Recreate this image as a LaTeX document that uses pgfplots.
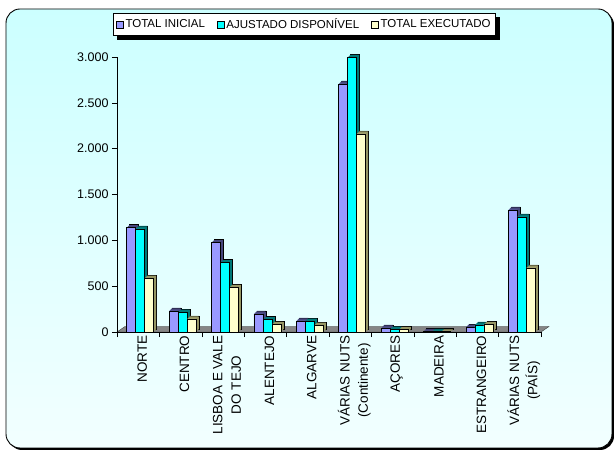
\documentclass[border=0pt]{standalone}
\usepackage{pgfplots}
\pgfplotsset{compat=1.18}
\usepackage{fontspec}
\setmainfont{Liberation Sans}

\definecolor{iniFront}{RGB}{153,153,255}
\definecolor{iniSide}{RGB}{70,70,125}
\definecolor{ajuFront}{RGB}{0,255,255}
\definecolor{ajuSide}{RGB}{0,120,120}
\definecolor{exeFront}{RGB}{255,255,204}
\definecolor{exeSide}{RGB}{150,150,100}
\definecolor{bgTop}{RGB}{204,255,255}
\definecolor{bgBottom}{RGB}{242,255,255}

\pgfdeclarelayer{frame}
\pgfdeclarelayer{shadow}
\pgfsetlayers{frame,shadow,main}

% values per region (thousands)
\pgfplotstableread{
x ini aju exe
0 1140 1125 587
1 231 216 144
2 976 758 488
3 198 136 82
4 122 118 74
5 2706 2996 2161
6 46 31 30
7 8 6 5
8 52 78 82
9 1332 1256 700
}\dados

\pgfplotsset{
  depth/.style={fill=#1, draw=none, forget plot},
  backface/.style={fill=#1, draw=black, forget plot, xshift=3pt, yshift=3pt},
}

\begin{document}
\begin{tikzpicture}
\path[use as bounding box] (-117pt,-118pt) rectangle (497pt,332pt);
\begin{pgfonlayer}{frame}
\fill[black,rounded corners=14pt] (-109pt,-118pt) rectangle (497pt,321pt);
\shade[top color=bgTop,bottom color=bgBottom,draw=black,line width=0.9pt,rounded corners=14pt]
  (-111pt,-116pt) rectangle (495pt,323pt);
\end{pgfonlayer}
% floor of the plot area
\fill[gray!95,draw=black!75,line width=0.4pt] (0pt,0pt) -- (424pt,0pt) -- (432pt,5.5pt) -- (8pt,5.5pt) -- cycle;

\begin{axis}[
  at={(0pt,0pt)}, anchor=south west,
  scale only axis, width=424pt, height=275pt,
  xmin=-0.5, xmax=9.5, ymin=0, ymax=3000,
  axis lines*=left,
  axis line style={black,line width=0.6pt},
  ybar, bar width=9pt,
  ytick={0,500,...,3000},
  tick align=outside,
  major tick length=5pt,
  tick style={black,line width=0.5pt},
  /pgf/number format/.cd, 1000 sep={.}, assume math mode=true,
  /pgfplots/.cd,
  yticklabel style={font=\fontsize{12.5}{14}\selectfont},
  xtick={-0.5,0.5,1.5,2.5,3.5,4.5,5.5,6.5,7.5,8.5,9.5},
  xticklabels={},
  extra x ticks={0,1,2,3,4,5,6,7,8,9},
  extra x tick labels={NORTE,CENTRO,{LISBOA E VALE\\DO TEJO},ALENTEJO,ALGARVE,{VÁRIAS NUTS\\(Continente)},AÇORES,MADEIRA,ESTRANGEIRO,{VÁRIAS NUTS\\(PAÍS)}},
  extra x tick style={major tick length=0pt,
    xticklabel style={rotate=90, anchor=east, align=center,
      font=\fontsize{13.5}{18.3}\selectfont, yshift=-4pt}},
  clip=false,
  legend columns=3,
  legend style={name=leg, at={(axis description cs:-0.0101,1.16)}, anchor=north west,
    draw=black, line width=0.6pt, fill=white,
    font=\fontsize{11.5}{13}\selectfont,
    inner xsep=3pt, inner ysep=3.5pt,
    /tikz/every even column/.append style={column sep=10pt}},
  legend cell align=left,
  legend image code/.code={\draw[#1,line width=0.5pt] (2pt,-3.5pt) rectangle (9pt,3.5pt);},
  every axis plot/.append style={line width=0.4pt},
]
% TOTAL INICIAL: back face, depth, front face
\addplot[backface=iniSide,bar shift=-7pt] table[x=x,y=ini]{\dados};
\pgfplotsinvokeforeach{2.5,2,1.5,1,0.5}{
  \addplot[depth=iniSide,bar shift=-7pt,xshift=#1pt,yshift=#1pt] table[x=x,y=ini]{\dados};}
\addplot[fill=iniFront,draw=black,bar shift=-7pt] table[x=x,y=ini]{\dados};
% AJUSTADO DISPONIVEL
\addplot[backface=ajuSide,bar shift=2pt] table[x=x,y=aju]{\dados};
\pgfplotsinvokeforeach{2.5,2,1.5,1,0.5}{
  \addplot[depth=ajuSide,bar shift=2pt,xshift=#1pt,yshift=#1pt] table[x=x,y=aju]{\dados};}
\addplot[fill=ajuFront,draw=black,bar shift=2pt] table[x=x,y=aju]{\dados};
% TOTAL EXECUTADO
\addplot[backface=exeSide,bar shift=11pt] table[x=x,y=exe]{\dados};
\pgfplotsinvokeforeach{2.5,2,1.5,1,0.5}{
  \addplot[depth=exeSide,bar shift=11pt,xshift=#1pt,yshift=#1pt] table[x=x,y=exe]{\dados};}
\addplot[fill=exeFront,draw=black,bar shift=11pt] table[x=x,y=exe]{\dados};
\legend{TOTAL INICIAL,AJUSTADO DISPONÍVEL,TOTAL EXECUTADO}
\end{axis}
% legend shadow
\begin{pgfonlayer}{shadow}
\fill[black] ([shift={(4pt,-4pt)}]leg.south west) rectangle ([shift={(4pt,-4pt)}]leg.north east);
\end{pgfonlayer}
\end{tikzpicture}
\end{document}
